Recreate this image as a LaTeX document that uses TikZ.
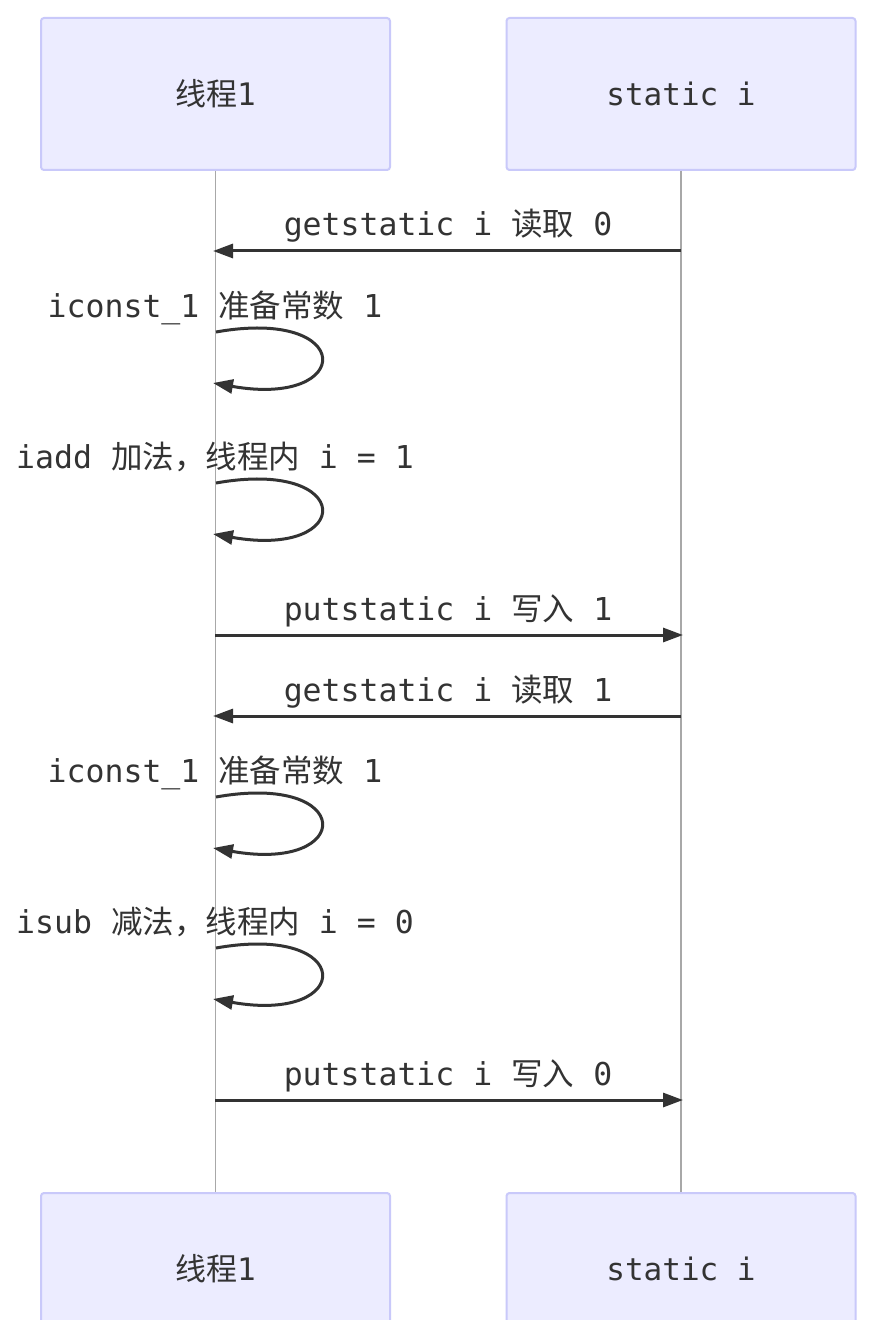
\documentclass[tikz,border=0pt]{standalone}
\usepackage{fontspec}
\setmonofont{DejaVu Sans Mono}
\newfontfamily\cjk{Noto Sans CJK SC}
\usetikzlibrary{arrows.meta,calc}
\definecolor{actorF}{HTML}{ECECFF}
\definecolor{actorB}{HTML}{C9C9FA}
\definecolor{lifeC}{HTML}{A8A8A8}
\definecolor{msgC}{HTML}{333333}
\newcommand\zh[1]{{\cjk #1}}
\begin{document}
\begin{tikzpicture}[x=1pt,y=-1pt,
  actor/.style={draw=actorB, fill=actorF, line width=2pt, rounded corners=3pt,
    minimum width=349pt, minimum height=152pt, inner sep=0pt,
    font=\fontsize{31}{36}\selectfont\ttfamily, text=msgC},
  lifeline/.style={draw=lifeC, line width=1.3pt},
  msg/.style={draw=msgC, line width=3pt, -{Triangle[length=20pt,width=14pt]}},
  lbl/.style={font=\fontsize{31.5}{36}\selectfont\ttfamily, text=msgC, anchor=base, inner sep=0pt}]
\useasboundingbox (0,0) rectangle (880,1340);
\fill[white] (0,0) rectangle (880,1340);
% actors
\node[actor] (a1top) at (215.5,94) {\zh{线程}1};
\node[actor] (a2top) at (681,94) {static i};
\begin{scope}
\clip (0,1180) rectangle (880,1319);
\node[actor] (a1bot) at (215.5,1269) {\zh{线程}1};
\node[actor] (a2bot) at (681,1269) {static i};
\end{scope}
% lifelines
\draw[lifeline] (a1top.south) -- (a1bot.north);
\draw[lifeline] (a2top.south) -- (a2bot.north);
% coordinates on lifelines
\coordinate (m1a) at (681,251);  \coordinate (m1b) at (213,251);
\coordinate (s1) at (216,332);   \coordinate (e1) at (213,383);
\coordinate (s2) at (216,483);   \coordinate (e2) at (213,534);
\coordinate (m4a) at (215,635);  \coordinate (m4b) at (683,635);
\coordinate (m5a) at (681,716);  \coordinate (m5b) at (213,716);
\coordinate (s3) at (216,797);   \coordinate (e3) at (213,848);
\coordinate (s4) at (216,948);   \coordinate (e4) at (213,999);
\coordinate (m8a) at (215,1100); \coordinate (m8b) at (683,1100);
% messages
\draw[msg] (m1a) -- (m1b);
\node[lbl] (t1) at (448,236) {getstatic i \zh{读取} 0};

\draw[msg] (s1) .. controls ($(s1)+(140,-25)$) and ($(e1)+(142,25)$) .. (e1);
\node[lbl] (t2) at (215,317) {iconst\_1 \zh{准备常数} 1};

\draw[msg] (s2) .. controls ($(s2)+(140,-25)$) and ($(e2)+(142,25)$) .. (e2);
\node[lbl] (t3) at (215,468) {iadd \zh{加法，线程内} i = 1};

\draw[msg] (m4a) -- (m4b);
\node[lbl] (t4) at (448,620) {putstatic i \zh{写入} 1};

\draw[msg] (m5a) -- (m5b);
\node[lbl] (t5) at (448,701) {getstatic i \zh{读取} 1};

\draw[msg] (s3) .. controls ($(s3)+(140,-25)$) and ($(e3)+(142,25)$) .. (e3);
\node[lbl] (t6) at (215,782) {iconst\_1 \zh{准备常数} 1};

\draw[msg] (s4) .. controls ($(s4)+(140,-25)$) and ($(e4)+(142,25)$) .. (e4);
\node[lbl] (t7) at (215,933) {isub \zh{减法，线程内} i = 0};

\draw[msg] (m8a) -- (m8b);
\node[lbl] (t8) at (448,1085) {putstatic i \zh{写入} 0};
\end{tikzpicture}
\end{document}
